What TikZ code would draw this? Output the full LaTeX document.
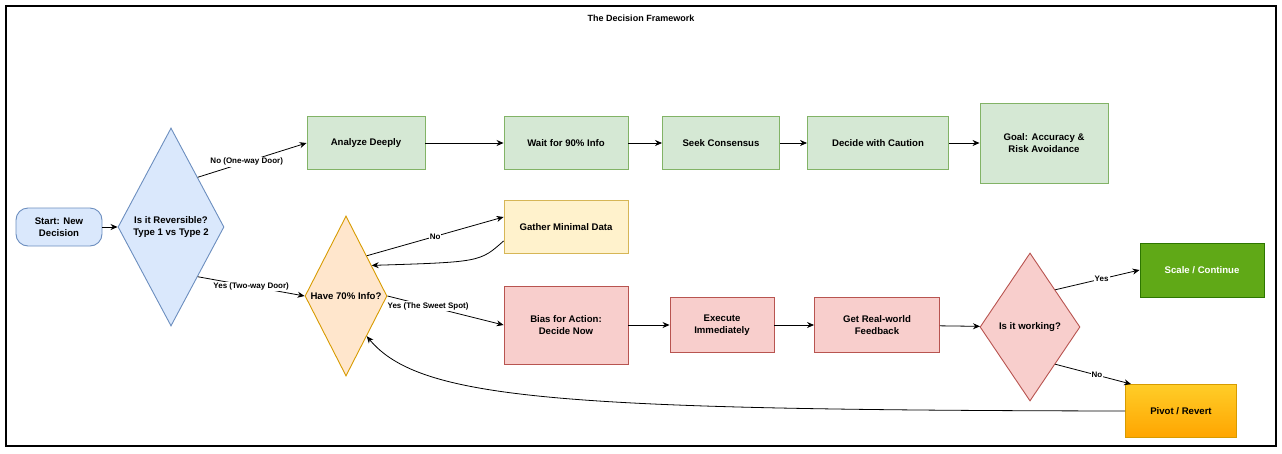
\documentclass[tikz,border=0pt]{standalone}
\usepackage{fontspec}
\setmainfont{Liberation Sans}
\usetikzlibrary{shapes.geometric,arrows.meta}
\definecolor{bfill}{HTML}{DAE8FC}\definecolor{bline}{HTML}{6C8EBF}
\definecolor{gfill}{HTML}{D5E8D4}\definecolor{gline}{HTML}{82B366}
\definecolor{yfill}{HTML}{FFF2CC}\definecolor{yline}{HTML}{D6B656}
\definecolor{ofill}{HTML}{FFE6CC}\definecolor{oline}{HTML}{D79B00}
\definecolor{rfill}{HTML}{F8CECC}\definecolor{rline}{HTML}{B85450}
\definecolor{sfill}{HTML}{60A917}\definecolor{sline}{HTML}{2D7600}
\definecolor{ptop}{HTML}{FFCD28}\definecolor{pbot}{HTML}{FFA500}
\begin{document}
\begin{tikzpicture}[x=1pt,y=-1pt,
  every node/.style={font=\fontsize{9.6}{12}\selectfont\bfseries,align=center,inner sep=1pt},
  box/.style={draw,line width=0.9pt,minimum width=#1},
  green/.style={box=118pt,fill=gfill,draw=gline,minimum height=53pt},
  dia/.style={diamond,draw,line width=0.9pt,inner sep=0pt},
  arr/.style={-{Stealth[length=7pt,width=6pt]},line width=0.8pt},
  lab/.style={fill=white,inner sep=1pt,font=\fontsize{8}{10}\selectfont\bfseries}]
\useasboundingbox (0,0) rectangle (1282,453);
\draw[line width=1.2pt] (6,6) rectangle (1276,446);
\node[font=\fontsize{9}{11}\selectfont\bfseries] (title) at (641,18) {The Decision Framework};
\node[box=86pt,minimum height=38pt,rounded corners=12pt,fill=bfill,draw=bline] (start) at (59,227) {Start: New\\Decision};
\node[dia,fill=bfill,draw=bline,minimum width=106pt,minimum height=198pt] (d1) at (171,227) {Is it Reversible?\\Type 1 vs Type 2};
\node[green] (an) at (366,143) {Analyze Deeply};
\node[green,minimum width=124pt] (wait) at (566,143) {Wait for 90\% Info};
\node[green,minimum width=117pt] (seek) at (721,143) {Seek Consensus};
\node[green,minimum width=141pt] (dec) at (878,143) {Decide with Caution};
\node[green,minimum width=128pt,minimum height=80pt] (goal) at (1044,143) {Goal: Accuracy \&\\Risk Avoidance};
\node[box=124pt,minimum height=53pt,fill=yfill,draw=yline] (gat) at (566,227) {Gather Minimal Data};
\node[dia,fill=ofill,draw=oline,minimum width=82pt,minimum height=160pt] (d2) at (346,296) {Have 70\% Info?};
\node[box=124pt,minimum height=78pt,fill=rfill,draw=rline] (bias) at (566,325) {Bias for Action:\\Decide Now};
\node[box=104pt,minimum height=55pt,fill=rfill,draw=rline] (exe) at (722,325) {Execute\\Immediately};
\node[box=125pt,minimum height=55pt,fill=rfill,draw=rline] (fb) at (877,325) {Get Real-world\\Feedback};
\node[dia,fill=rfill,draw=rline,minimum width=100pt,minimum height=148pt] (d3) at (1030,327) {Is it working?};
\node[box=124pt,minimum height=54pt,fill=sfill,draw=sline,text=white] (sc) at (1202,270) {Scale / Continue};
\node[box=111pt,minimum height=53pt,top color=ptop,bottom color=pbot,draw=oline] (pv) at (1181,411) {Pivot / Revert};
\draw[arr] (start) -- (d1);
\draw[arr] (d1.north east) -- node[lab,pos=0.45] {No (One-way Door)} (an.west);
\draw[arr] (d1.south east) -- node[lab,pos=0.5] {Yes (Two-way Door)} (d2.west);
\draw[arr] (an) -- (wait); \draw[arr] (wait) -- (seek); \draw[arr] (seek) -- (dec); \draw[arr] (dec) -- (goal);
\draw[arr] (d2.north east) -- node[lab,pos=0.5] {No} ([yshift=10pt]gat.west);
\draw[arr] ([yshift=-14pt]gat.west) .. controls (480,262) .. (d2.50);
\draw[arr] (d2.east) -- node[lab,pos=0.35] {Yes (The Sweet Spot)} (bias.west);
\draw[arr] (bias) -- (exe); \draw[arr] (exe) -- (fb); \draw[arr] (fb) -- (d3);
\draw[arr] (d3.north east) -- node[lab,pos=0.55] {Yes} (sc.west);
\draw[arr] (d3.south east) -- node[lab,pos=0.55] {No} ([xshift=6pt]pv.north west);
\draw[arr] (pv.west) .. controls (560,410) and (420,400) .. (d2.south east);
\end{tikzpicture}
\end{document}
